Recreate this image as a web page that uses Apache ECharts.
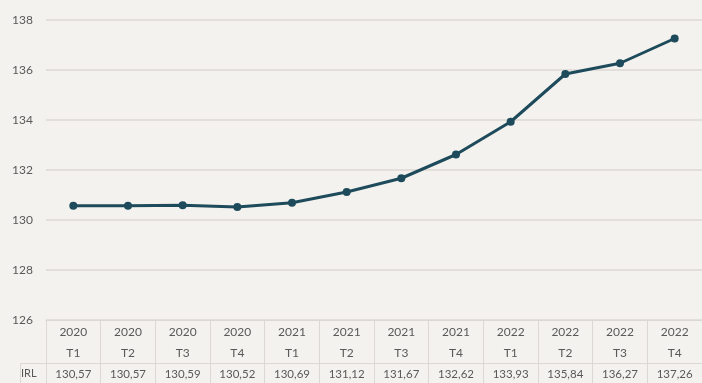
<!DOCTYPE html>
<html>
<head>
<meta charset="utf-8">
<script src="https://cdn.jsdelivr.net/npm/echarts@6/dist/echarts.min.js"></script>
<style>
  html, body { margin: 0; padding: 0; background: #f4f2ee; }
  #chart { width: 702px; height: 383px; }
</style>
</head>
<body>
<div id="chart"></div>
<script>
// Quarterly index values (IRL), 2020 T1 – 2022 T4
const years = ['2020', '2020', '2020', '2020', '2021', '2021', '2021', '2021', '2022', '2022', '2022', '2022'];
const quarters = ['T1', 'T2', 'T3', 'T4', 'T1', 'T2', 'T3', 'T4', 'T1', 'T2', 'T3', 'T4'];
const irl = [130.57, 130.57, 130.59, 130.52, 130.69, 131.12, 131.67, 132.62, 133.93, 135.84, 136.27, 137.26];
const yTicks = { min: 126, max: 138, step: 2 };
const rowName = 'IRL';

const categories = years.map((y, i) => y + '\n' + quarters[i]);
const fmt = v => v.toFixed(2).replace('.', ',');

const textColor = '#595959';
const borderColor = '#dcd9d4';
const fontFamily = 'Lato, "Noto Sans", sans-serif';

const chart = echarts.init(document.getElementById('chart'));
chart.setOption({
  backgroundColor: '#f4f2ee',
  animation: false,
  grid: { left: 46, right: 0, top: 20, bottom: 63 },
  xAxis: [
    {
      // header row of the table: year / quarter
      type: 'category',
      data: categories,
      boundaryGap: true,
      axisLine: { show: true, lineStyle: { color: borderColor, width: 1 } },
      axisTick: { show: true, interval: 0, length: 63, lineStyle: { color: borderColor } },
      axisLabel: {
        interval: 0, margin: 2, color: textColor, fontSize: 12,
        fontFamily, lineHeight: 21
      }
    },
    {
      // value row of the table
      type: 'category',
      data: irl.map(fmt),
      position: 'bottom',
      offset: 43,
      boundaryGap: true,
      axisLine: { show: true, lineStyle: { color: borderColor, width: 1 } },
      axisTick: { show: false },
      axisLabel: { interval: 0, margin: 5, color: textColor, fontSize: 11.5, fontFamily }
    }
  ],
  yAxis: {
    type: 'value',
    min: yTicks.min, max: yTicks.max, interval: yTicks.step,
    axisLine: { show: false },
    axisTick: { show: false },
    axisLabel: { color: textColor, fontSize: 12, fontFamily, margin: 13 },
    splitLine: { lineStyle: { color: borderColor, width: 1.5 } }
  },
  graphic: [
    {
      type: 'text', left: 21, top: 368,
      style: { text: rowName, fill: textColor, fontSize: 11, fontFamily }
    },
    {
      type: 'line', silent: true,
      shape: { x1: 20.5, y1: 363.5, x2: 46, y2: 363.5 },
      style: { stroke: borderColor, lineWidth: 1 }
    },
    {
      type: 'line', silent: true,
      shape: { x1: 20.5, y1: 363.5, x2: 20.5, y2: 383 },
      style: { stroke: borderColor, lineWidth: 1 }
    }
  ],
  series: [
    {
      name: rowName,
      type: 'line',
      data: irl,
      symbol: 'circle',
      symbolSize: 8,
      lineStyle: { color: '#1e4b5b', width: 3 },
      itemStyle: { color: '#1e4b5b' }
    }
  ]
});
</script>
</body>
</html>
